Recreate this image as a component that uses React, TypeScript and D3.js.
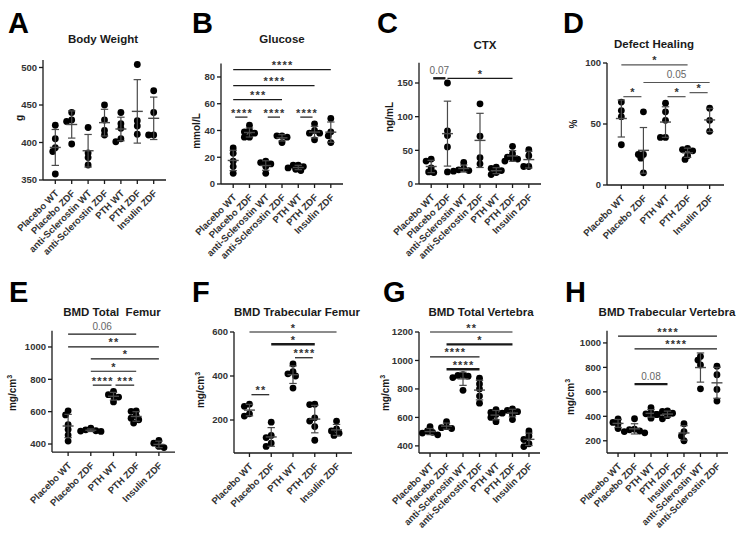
import React from 'react';
import * as d3 from 'd3';

// ---------- Data ----------
const cats7 = ["Placebo WT", "Placebo ZDF", "anti-Sclerostin WT", "anti-Sclerostin ZDF", "PTH WT", "PTH ZDF", "Insulin ZDF"];
const cats5 = ["Placebo WT", "Placebo ZDF", "PTH WT", "PTH ZDF", "Insulin ZDF"];
const catsH = ["Placebo WT", "Placebo ZDF", "PTH WT", "PTH ZDF", "Insulin ZDF", "anti-Sclerostin WT", "anti-Sclerostin ZDF"];

const valsA = [[423, 405, 393, 388, 358], [440, 430, 428, 398], [420, 386, 380, 370], [450, 430, 416, 410], [440, 425, 419, 405, 401], [504, 429, 422, 411], [469, 440, 410, 410]];
const valsB = [[27, 23, 17, 13, 8], [44, 40, 39, 38, 35, 35], [17, 16, 15, 13, 8], [36, 36, 35, 31], [14, 14, 13, 12, 11, 10], [45, 40, 38, 38, 33], [49, 39, 36, 31]];
const valsC = [[37, 34, 24, 18, 17], [150, 79, 72, 55, 18], [32, 23, 21, 20, 19], [119, 71, 39, 30], [25, 23, 20, 17, 14], [56, 45, 40, 38, 37, 34], [51, 42, 26, 26]];
const valsD = [[68, 61, 56, 33], [60, 25, 25, 22, 10], [67, 60, 53, 39, 39], [30, 29, 28, 24, 21], [63, 53, 44]];
const valsE = [[605, 580, 520, 490, 455, 418], [498, 488, 482, 480, 478], [726, 705, 695, 690, 660], [605, 602, 575, 560, 550, 530], [422, 405, 385, 378]];
const valsF = [[272, 262, 228, 218], [190, 130, 120, 95, 80], [455, 420, 410, 400, 345], [272, 270, 210, 195, 170, 108], [195, 160, 150, 140, 130]];
const valsG = [[535, 505, 495, 490, 478], [570, 535, 528, 522], [900, 895, 890, 880, 790], [875, 835, 800, 750, 700], [655, 635, 620, 600, 570], [660, 650, 640, 630, 620, 585], [505, 470, 445, 415, 395]];
const valsH = [[378, 350, 340, 300], [380, 295, 290, 280, 275, 265], [470, 430, 420, 415, 385], [445, 440, 425, 415, 405, 380], [340, 275, 240, 200], [890, 860, 820, 625], [810, 740, 620, 525]];

// significance: [fromIdx, toIdx, yValue, label, thick]
const sigA: any[] = [];
const sigB = [[0, 6, 85.5, "****", 0], [0, 5, 73.6, "****", 0], [0, 3, 63, "***", 0], [0, 1, 50, "****", 0], [2, 3, 50, "****", 0], [4, 5, 50, "****", 0]];
const sigC = [[0, 1, 157, "0.07", 1], [1, 5, 157, "*", 0]];
const sigD = [[0, 3, 98.4, "*", 0], [1, 4, 84, "0.05", 0], [0, 1, 72.4, "*", 0], [2, 3, 72.4, "*", 0], [3, 4, 75.7, "*", 0]];
const sigE = [[0, 3, 1080, "0.06", 0], [0, 4, 1000, "**", 0], [1, 4, 926, "*", 0], [1, 3, 850, "*", 0], [1, 2, 764, "****", 0], [2, 3, 764, "***", 0]];
const sigF = [[0, 4, 600, "*", 0], [1, 3, 544, "*", 1], [2, 3, 483, "****", 0], [0, 1, 315, "**", 0]];
const sigG = [[0, 5, 1200, "**", 0], [1, 5, 1113, "*", 1], [0, 3, 1025, "****", 0], [1, 3, 938, "****", 1]];
const sigH = [[0, 6, 1055, "****", 0], [1, 6, 951, "****", 0], [1, 3, 663, "0.08", 1]];

const ticksA = [350, 400, 450, 500];
const ticksB = [0, 20, 40, 60, 80];
const ticksC = [0, 50, 100, 150];
const ticksD = [0, 50, 100];
const ticksE = [400, 600, 800, 1000];
const ticksF = [200, 400, 600];
const ticksG = [400, 600, 800, 1000, 1200];
const ticksH = [200, 400, 600, 800, 1000];

// ---------- Layout ----------
const FONT = "'Liberation Sans', Arial, sans-serif";
const INK = "#1a1a1a";
const BAR = "#4a4a4a";

const panels = [
  { letter: "A", title: "Body Weight", yLabel: "g", cats: cats7, vals: valsA, sig: sigA, ticks: ticksA, domain: [350, 510],
    x0: 43, x1: 166, pad: 0.75, yB: 180, yT: 60, tx: 103, ty: 43, lx: 8, ly: 33, ylx: 23, yly: 118, sigColor: INK },
  { letter: "B", title: "Glucose", yLabel: "mmol/L", cats: cats7, vals: valsB, sig: sigB, ticks: ticksB, domain: [0, 90],
    x0: 221, x1: 343, pad: 0.75, yB: 184, yT: 63.6, tx: 282, ty: 43, lx: 192, ly: 33, ylx: 200, yly: 131, sigColor: INK },
  { letter: "C", title: "CTX", yLabel: "ng/mL", cats: cats7, vals: valsC, sig: sigC, ticks: ticksC, domain: [0, 180],
    x0: 419, x1: 541, pad: 0.75, yB: 184, yT: 62.8, tx: 485, ty: 49, lx: 377, ly: 33, ylx: 393, yly: 117, sigColor: INK },
  { letter: "D", title: "Defect Healing", yLabel: "%", cats: cats5, vals: valsD, sig: sigD, ticks: ticksD, domain: [0, 100],
    x0: 607, x1: 724, pad: 0.65, yB: 185, yT: 63, tx: 654, ty: 48, lx: 563, ly: 33, ylx: 577, yly: 124, sigColor: "#555" },
  { letter: "E", title: "BMD Total  Femur", yLabel: "mg/cm", sup: "3", cats: cats5, vals: valsE, sig: sigE, ticks: ticksE, domain: [350, 1100],
    x0: 52, x1: 175, pad: 0.71, yB: 452.1, yT: 330.8, tx: 112, ty: 316, lx: 9, ly: 302, ylx: 16, yly: 393, sigColor: INK },
  { letter: "F", title: "BMD Trabecular Femur", yLabel: "mg/cm", sup: "3", cats: cats5, vals: valsF, sig: sigF, ticks: ticksF, domain: [50, 600],
    x0: 234, x1: 352, pad: 0.71, yB: 453, yT: 332, tx: 297, ty: 316, lx: 192, ly: 302, ylx: 204, yly: 390, sigColor: INK },
  { letter: "G", title: "BMD Total Vertebra", yLabel: "mg/cm", sup: "3", cats: cats7, vals: valsG, sig: sigG, ticks: ticksG, domain: [350, 1200],
    x0: 419, x1: 540, pad: 0.67, yB: 453, yT: 332, tx: 481, ty: 316, lx: 383, ly: 302, ylx: 389, yly: 393, sigColor: INK },
  { letter: "H", title: "BMD Trabecular Vertebra", yLabel: "mg/cm", sup: "3", cats: catsH, vals: valsH, sig: sigH, ticks: ticksH, domain: [100, 1100],
    x0: 607, x1: 728, pad: 0.67, yB: 453, yT: 330.7, tx: 667, ty: 316, lx: 565, ly: 302, ylx: 574, yly: 397, sigColor: INK },
];

const R = 3.4;

function swarm(vals: number[], y: (v: number) => number) {
  const pts = vals.map((v) => ({ v, py: y(v), dx: 0 }));
  const order = [...pts].sort((a, b) => b.v - a.v);
  const placed: any[] = [];
  const cand = [0, -1, 1, -2, 2, -3, 3, -4, 4];
  for (const p of order) {
    for (const c of cand) {
      const dx = c * R * 0.75;
      if (placed.every((q) => Math.hypot(q.dx - dx, q.py - p.py) >= R * 1.3)) { p.dx = dx; break; }
    }
    placed.push(p);
  }
  return pts;
}

function Panel({ p }: { p: any }) {
  const x = d3.scalePoint<string>().domain(p.cats).range([p.x0, p.x1]).padding(p.pad);
  const y = d3.scaleLinear().domain(p.domain).range([p.yB, p.yT]);
  return (
    <g fontFamily={FONT}>
      <text x={p.lx} y={p.ly} fontSize={29} fontWeight="bold" fill="#000">{p.letter}</text>
      <text x={p.tx} y={p.ty} fontSize={11.5} fontWeight="bold" textAnchor="middle" fill={INK} style={{ whiteSpace: "pre" }}>{p.title}</text>
      <text transform={`translate(${p.ylx},${p.yly}) rotate(-90)`} fontSize={10} fontWeight="bold" textAnchor="middle" fill={INK}>
        {p.yLabel}{p.sup ? <tspan dy={-4} fontSize={7}>{p.sup}</tspan> : null}
      </text>
      {/* y axis */}
      <line x1={p.x0} x2={p.x0} y1={y(p.domain[0])} y2={y(p.domain[1])} stroke={INK} strokeWidth={1.3} />
      {p.ticks.map((t: number) => (
        <g key={t}>
          <line x1={p.x0 - 4} x2={p.x0} y1={y(t)} y2={y(t)} stroke={INK} strokeWidth={1.3} />
          <text x={p.x0 - 6} y={y(t)} dy="0.35em" fontSize={9.5} fontWeight="bold" textAnchor="end" fill="#333">{t}</text>
        </g>
      ))}
      {/* x axis */}
      <line x1={p.x0} x2={p.x1} y1={p.yB} y2={p.yB} stroke={INK} strokeWidth={1.3} />
      {p.cats.map((c: string) => (
        <g key={c}>
          <line x1={x(c)} x2={x(c)} y1={p.yB} y2={p.yB + 4} stroke={INK} strokeWidth={1.3} />
          <text transform={`translate(${(x(c) as number) + 4},${p.yB + 14}) rotate(-45)`} fontSize={9.5} fontWeight="bold" textAnchor="end" fill="#333">{c}</text>
        </g>
      ))}
      {/* points + error bars */}
      {p.vals.map((vs: number[], i: number) => {
        const cx = x(p.cats[i]) as number;
        const m = d3.mean(vs) as number;
        const sd = d3.deviation(vs) as number;
        const pts = swarm(vs, y);
        return (
          <g key={i}>
            {pts.map((pt, j) => <circle key={j} cx={cx + pt.dx} cy={pt.py} r={R} fill="#000" />)}
            <line x1={cx} x2={cx} y1={y(m - sd)} y2={y(m + sd)} stroke={BAR} strokeWidth={1.2} />
            <line x1={cx - 3.7} x2={cx + 3.7} y1={y(m - sd)} y2={y(m - sd)} stroke={BAR} strokeWidth={1.2} />
            <line x1={cx - 3.7} x2={cx + 3.7} y1={y(m + sd)} y2={y(m + sd)} stroke={BAR} strokeWidth={1.2} />
            <line x1={cx - 5.5} x2={cx + 5.5} y1={y(m)} y2={y(m)} stroke={BAR} strokeWidth={1.4} />
          </g>
        );
      })}
      {/* significance */}
      {p.sig.map((s: any[], k: number) => {
        const inset = s[1] - s[0] === 1 ? 2 : 0;
        const xa = (x(p.cats[s[0]]) as number) + inset;
        const xb = (x(p.cats[s[1]]) as number) - inset;
        const yy = y(s[2]);
        const isStar = String(s[3]).startsWith("*");
        return (
          <g key={k}>
            <line x1={xa} x2={xb} y1={yy} y2={yy} stroke={p.sigColor} strokeWidth={s[4] ? 2.4 : 1.2} />
            <text x={(xa + xb) / 2 + (isStar ? 0.6 : 0)} y={isStar ? yy - 0.5 : yy - 4.5} fontSize={isStar ? 11 : 10} fontWeight={isStar ? "bold" : "normal"}
              letterSpacing={isStar ? 1.2 : 0} textAnchor="middle" fill={isStar ? "#333" : "#666"}>{s[3]}</text>
          </g>
        );
      })}
    </g>
  );
}

export default function App() {
  return (
    <svg width={746} height={535} style={{ position: "absolute", left: 0, top: 0, background: "#fff" }}>
      <rect width={746} height={535} fill="#fff" />
      {panels.map((p) => <Panel key={p.letter} p={p} />)}
    </svg>
  );
}
